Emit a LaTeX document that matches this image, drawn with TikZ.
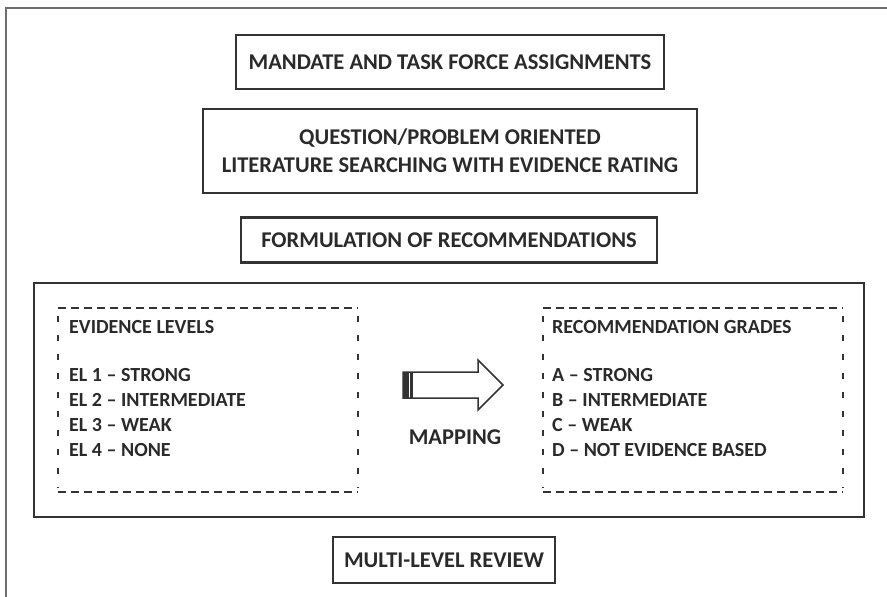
\documentclass[tikz,border=0pt]{standalone}
\usepackage{fontspec}
\setmainfont{Carlito}
\begin{document}
\begin{tikzpicture}[x=1pt,y=-1pt,
  every node/.style={font=\bfseries, text=ink},
  solidbox/.style={draw=line, line width=2.1pt, inner sep=0pt, align=center, font=\fontsize{22.5}{28}\selectfont\bfseries},
  listtext/.style={anchor=base west, inner sep=0pt, font=\fontsize{20}{24}\selectfont\bfseries},
  hdash/.style={draw=line, line width=2.3pt, dash pattern=on 8pt off 5pt},
  vdash/.style={draw=line, line width=2.1pt, dash pattern=on 6pt off 13pt},
]
\definecolor{ink}{HTML}{2A2A2A}
\definecolor{line}{HTML}{333333}
\definecolor{frame}{HTML}{6E6E6E}
\useasboundingbox (0,0) rectangle (887,597);
% outer frame (partial)
\draw[frame, line width=2.4pt] (6,597) -- (6,8) -- (887,8);
% main boxes
\node[solidbox, minimum width=428pt, minimum height=54pt] (mandate) at (450,62) {MANDATE AND TASK FORCE ASSIGNMENTS};
\node[solidbox, minimum width=494pt, minimum height=84pt] (question) at (450,151) {QUESTION/PROBLEM ORIENTED\\LITERATURE SEARCHING WITH EVIDENCE RATING};
\node[solidbox, minimum width=416pt, minimum height=45pt] (formul) at (449,240) {FORMULATION OF RECOMMENDATIONS};
\node[solidbox, minimum width=830pt, minimum height=234pt] (big) at (449,400) {};
\node[solidbox, minimum width=222pt, minimum height=46pt] (review) at (444,560) {MULTI-LEVEL REVIEW};
% dashed boxes
\draw[hdash] (58,308) -- (358,308);
\draw[hdash] (58,492) -- (358,492);
\draw[vdash] (58,316) -- (58,488);
\draw[vdash] (358,316) -- (358,488);
\draw[hdash] (543,308) -- (843,308);
\draw[hdash] (543,492) -- (843,492);
\draw[vdash] (543,316) -- (543,488);
\draw[vdash] (843,316) -- (843,488);
\node[listtext] (evh) at (69,333.5) {EVIDENCE LEVELS};
\node[listtext] (el1) at (69,381.5) {EL 1 -- STRONG};
\node[listtext] (el2) at (69,406.5) {EL 2 -- INTERMEDIATE};
\node[listtext] (el3) at (69,431.5) {EL 3 -- WEAK};
\node[listtext] (el4) at (69,456.5) {EL 4 -- NONE};
\node[listtext] (rgh) at (552,333.5) {RECOMMENDATION GRADES};
\node[listtext] (rga) at (552,381.5) {A -- STRONG};
\node[listtext] (rgb) at (552,406.5) {B -- INTERMEDIATE};
\node[listtext] (rgc) at (552,431.5) {C -- WEAK};
\node[listtext] (rgd) at (552,456.5) {D -- NOT EVIDENCE BASED};
% mapping arrow
\draw[line, line width=1.5pt, line join=miter] (403,372) -- (478,372) -- (478,360) -- (503,385) -- (478,410) -- (478,398) -- (403,398) -- cycle;
\fill[line] (403,372) rectangle (408.5,398);
\fill[line] (410,372) rectangle (412.5,398);
\node[font=\fontsize{22.5}{26}\selectfont\bfseries] (map) at (455,437) {MAPPING};
\end{tikzpicture}
\end{document}
